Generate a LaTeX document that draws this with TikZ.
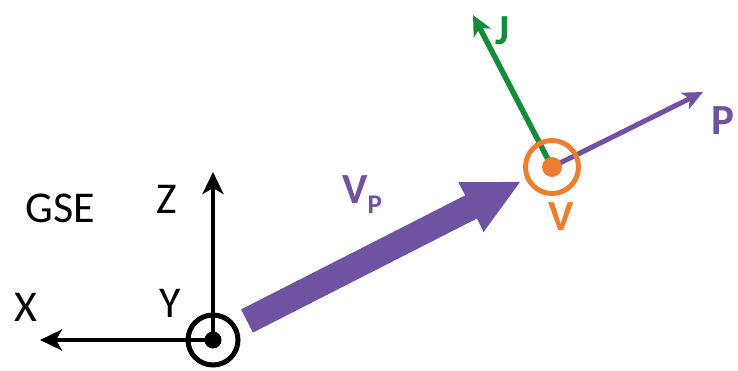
\documentclass[tikz,border=0pt]{standalone}
\usepackage{fontspec}
\setmainfont{Carlito}
\usetikzlibrary{arrows.meta,calc}
\definecolor{vpurple}{RGB}{112,82,162}
\definecolor{vorange}{RGB}{237,125,49}
\definecolor{vgreen}{RGB}{20,140,60}
\tikzset{
  axis/.style={line width=4.5pt, draw=black, -{Stealth[length=22pt,width=21pt,inset=6pt]}},
  lbl/.style={font=\fontsize{44}{46}\selectfont, inner sep=0pt},
  blbl/.style={font=\bfseries\fontsize{43}{45}\selectfont, inner sep=0pt},
}
\begin{document}
\begin{tikzpicture}[x=1pt,y=-1pt]
\useasboundingbox (0,0) rectangle (738,371);
% GSE frame
\coordinate (O) at (213,340);
\coordinate (Ztip) at (213,172);
\coordinate (Xtip) at (40,340);
\draw[axis] (O) -- (Ztip);
\draw[axis] (O) -- (Xtip);
\draw[line width=5pt] (O) circle[radius=25];
\fill (O) circle[radius=8.5];
\node[lbl] (gse) at (60,208) {GSE};
\node[lbl] (zl) at (167,199) {Z};
\node[lbl] (yl) at (170,303) {Y};
\node[lbl] (xl) at (26,307) {X};
% big arrow V_P
\coordinate (T) at (247,321);
\coordinate (E) at (520,182);
\coordinate (B) at ($(E)!55pt!(T)$);
\coordinate (T1) at ($(T)!13pt!90:(E)$);
\coordinate (T2) at ($(T)!13pt!-90:(E)$);
\coordinate (B1) at ($(B)!13pt!-90:(E)$);
\coordinate (B2) at ($(B)!13pt!90:(E)$);
\coordinate (H1) at ($(B)!28pt!-90:(E)$);
\coordinate (H2) at ($(B)!28pt!90:(E)$);
\fill[vpurple] (T1) -- (B2) -- (H2) -- (E) -- (H1) -- (B1) -- (T2) -- cycle;
\node[blbl, text=vpurple, anchor=base west] (vp) at (342,204) {V\raisebox{-10pt}{\fontsize{27}{29}\selectfont P}};
% V point
\coordinate (V) at (552,167);
\coordinate (Jtip) at (473,15);
\coordinate (Ptip) at (703,92);
\draw[line width=5.5pt, vgreen, -{Stealth[length=20pt,width=19pt,inset=5pt]}] (V) -- (Jtip);
\draw[line width=5pt, vpurple, -{Stealth[length=20pt,width=18pt,inset=5pt]}] (V) -- (Ptip);
\draw[line width=5pt, vorange] (V) circle[radius=26.5];
\fill[vorange] (V) circle[radius=10];
\node[blbl, text=vgreen] (jl) at (503,31) {J};
\node[blbl, text=vpurple] (pl) at (723,121) {P};
\node[blbl, text=vorange] (vl) at (561,217) {V};
\end{tikzpicture}
\end{document}
